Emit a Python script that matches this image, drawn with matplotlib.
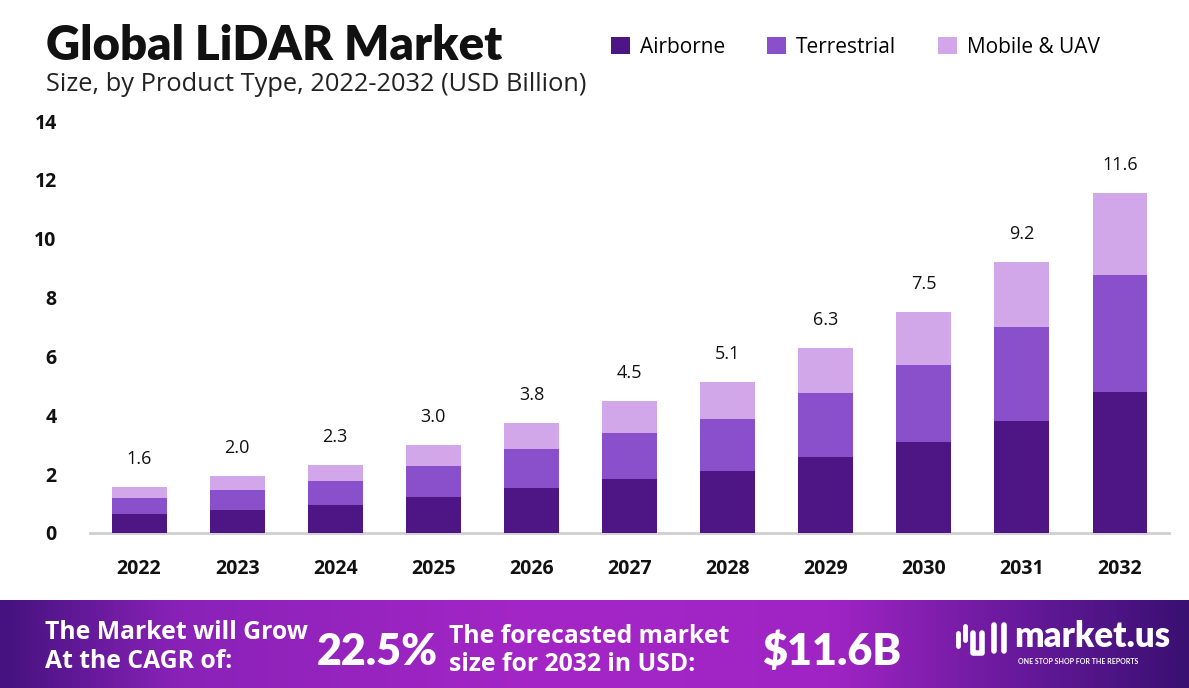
import matplotlib.pyplot as plt
import numpy as np
from matplotlib.colors import LinearSegmentedColormap

# data (USD billion)
years = ['2022', '2023', '2024', '2025', '2026', '2027', '2028', '2029', '2030', '2031', '2032']
airborne = [0.65, 0.78, 0.95, 1.22, 1.53, 1.84, 2.11, 2.59, 3.10, 3.81, 4.80]
terrestrial = [0.55, 0.68, 0.82, 1.06, 1.33, 1.56, 1.77, 2.17, 2.61, 3.19, 3.98]
mobile_uav = [0.37, 0.48, 0.54, 0.72, 0.88, 1.09, 1.26, 1.53, 1.81, 2.22, 2.78]
totals = [1.6, 2.0, 2.3, 3.0, 3.8, 4.5, 5.1, 6.3, 7.5, 9.2, 11.6]
yticks = [0, 2, 4, 6, 8, 10, 12, 14]

c_air = '#4e1585'
c_ter = '#8a4fcb'
c_mob = '#d2a7ea'

fig = plt.figure(figsize=(11.89, 6.88), dpi=100)
fig.patch.set_facecolor('white')

ax = fig.add_axes([0.0757, 0.2253, 0.9075, 0.5988])
x = np.arange(len(years))
w = 0.56
air = np.array(airborne)
ter = np.array(terrestrial)
mob = np.array(mobile_uav)
ax.bar(x, air, w, color=c_air, label='Airborne', zorder=3)
ax.bar(x, ter, w, bottom=air, color=c_ter, label='Terrestrial', zorder=3)
ax.bar(x, mob, w, bottom=air + ter, color=c_mob, label='Mobile & UAV', zorder=3)

for i, t in enumerate(totals):
    ax.annotate(f'{t:.1f}', (x[i], air[i] + ter[i] + mob[i]), xytext=(0, 20),
                textcoords='offset points', ha='center', va='center',
                fontsize=13, family='Open Sans', color='#111111')

ax.set_xlim(-0.5, len(years) - 0.5)
ax.set_ylim(0, 14)
ax.set_xticks(x)
ax.set_xticklabels(years, fontsize=14, fontweight='bold', family='Open Sans')
ax.set_yticks(yticks)
ax.set_yticklabels([str(v) for v in yticks], fontsize=14, fontweight='bold', family='Open Sans')
ax.tick_params(axis='both', length=0, colors='#111111')
ax.tick_params(axis='x', pad=19)
ax.tick_params(axis='y', pad=24)
for s in ['top', 'right', 'left']:
    ax.spines[s].set_visible(False)
ax.spines['bottom'].set_color('#cfcfcf')
ax.spines['bottom'].set_linewidth(2)

# titles
fig.text(0.039, 0.933, 'Global LiDAR Market', fontsize=34, fontweight='heavy',
         family='Lato', color='#111111', va='center')
fig.text(0.039, 0.877, 'Size, by Product Type, 2022-2032 (USD Billion)', fontsize=18.3,
         family='Open Sans', color='#222222', va='center')

# legend
leg = fig.legend(loc='center left', bbox_to_anchor=(0.498, 0.931), ncol=3, frameon=False,
                 handlelength=0.9, handleheight=0.9, handletextpad=0.5, columnspacing=2.0,
                 prop={'family': 'Open Sans', 'size': 15})

# bottom banner with gradient
bax = fig.add_axes([0, 0, 1, 88 / 688])
cmap = LinearSegmentedColormap.from_list('band', [
    (0.0, '#45127f'), (0.15, '#8a22b8'), (0.45, '#a426c6'),
    (0.7, '#a024c4'), (0.85, '#6a1a9e'), (1.0, '#3a1072')])
bax.imshow(np.linspace(0, 1, 400).reshape(1, -1), aspect='auto', cmap=cmap,
           extent=[0, 1, 0, 1])
bax.set_xlim(0, 1)
bax.set_ylim(0, 1)
bax.axis('off')

bold = dict(color='white', fontweight='bold', family='Open Sans', va='center')
bax.text(0.038, 0.63, 'The Market will Grow', fontsize=17.8, **bold)
bax.text(0.038, 0.30, 'At the CAGR of:', fontsize=17.8, **bold)
bax.text(0.266, 0.41, '22.5%', fontsize=31, fontweight='heavy', family='Lato',
         color='white', va='center')
bax.text(0.378, 0.59, 'The forecasted market', fontsize=17.8, **bold)
bax.text(0.378, 0.27, 'size for 2032 in USD:', fontsize=17.8, **bold)
bax.text(0.641, 0.41, '$11.6B', fontsize=31, fontweight='heavy', family='Lato',
         color='white', va='center')

# market.us logo
bax.text(0.853, 0.58, 'market.us', fontsize=25, fontweight='heavy', family='Lato',
         color='white', va='center')
bax.text(0.856, 0.30, 'ONE STOP SHOP FOR THE REPORTS', fontsize=5, fontweight='bold',
         family='Lato', color='white', va='center')
bax.plot([0.806, 0.806], [0.48, 0.62], color='white', lw=3.5, solid_capstyle='round')
bax.plot([0.818, 0.818, 0.826, 0.826], [0.62, 0.40, 0.40, 0.62], color='white', lw=4,
         solid_capstyle='round')
bax.plot([0.836, 0.836], [0.42, 0.72], color='white', lw=4, solid_capstyle='round')
bax.plot([0.844, 0.844], [0.42, 0.72], color='white', lw=4, solid_capstyle='round')
bax.plot([0.812, 0.812], [0.55, 0.70], color='white', lw=3.5, solid_capstyle='round')

fig.savefig('out.png', dpi=100)
